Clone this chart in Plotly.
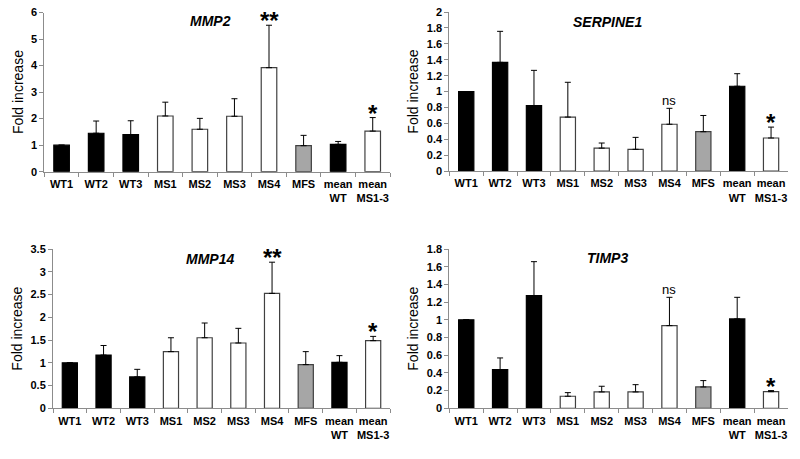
import plotly.graph_objects as go

categories = ["WT1", "WT2", "WT3", "MS1", "MS2", "MS3", "MS4", "MFS", "mean<br>WT", "mean<br>MS1-3"]
bar_colors = ["black", "black", "black", "white", "white", "white", "white", "#a6a6a6", "black", "white"]

mmp2_vals = [1.0, 1.45, 1.40, 2.10, 1.60, 2.09, 3.92, 0.98, 1.03, 1.53]
mmp2_err = [0.0, 0.46, 0.52, 0.52, 0.41, 0.66, 1.60, 0.39, 0.11, 0.51]

serpine1_vals = [1.0, 1.367, 0.825, 0.68, 0.29, 0.275, 0.59, 0.496, 1.067, 0.417]
serpine1_err = [0.0, 0.39, 0.442, 0.437, 0.064, 0.15, 0.20, 0.204, 0.158, 0.137]

mmp14_vals = [1.0, 1.17, 0.69, 1.245, 1.55, 1.435, 2.525, 0.96, 1.01, 1.486]
mmp14_err = [0.0, 0.21, 0.166, 0.305, 0.324, 0.322, 0.685, 0.285, 0.147, 0.094]

timp3_vals = [1.0, 0.437, 1.273, 0.136, 0.185, 0.185, 0.934, 0.241, 1.01, 0.188]
timp3_err = [0.0, 0.132, 0.384, 0.041, 0.064, 0.082, 0.32, 0.072, 0.244, 0.012]

W, H = 800, 459


def fx(px):
    return px / W


def fy(py):
    return 1 - py / H


panels = [
    dict(name="MMP2", vals=mmp2_vals, err=mmp2_err, ymax=6, dtick=1,
         box=(44.3, 390, 12.5, 171.7), title=(210, 21),
         marks={"MS4": "**", "mean<br>MS1-3": "*"}),
    dict(name="SERPINE1", vals=serpine1_vals, err=serpine1_err, ymax=2, dtick=0.2,
         box=(449.3, 788, 12, 171.2), title=(607, 22),
         marks={"MS4": "ns", "mean<br>MS1-3": "*"}),
    dict(name="MMP14", vals=mmp14_vals, err=mmp14_err, ymax=3.5, dtick=0.5,
         box=(53, 390, 249, 408.3), title=(210, 259),
         marks={"MS4": "**", "mean<br>MS1-3": "*"}),
    dict(name="TIMP3", vals=timp3_vals, err=timp3_err, ymax=1.8, dtick=0.2,
         box=(449.3, 788, 249, 408.3), title=(607, 258),
         marks={"MS4": "ns", "mean<br>MS1-3": "*"}),
]

FONT = "Liberation Sans, Arial"
fig = go.Figure()
annotations = []

for i, p in enumerate(panels):
    n = i + 1
    xa = "x" if n == 1 else f"x{n}"
    ya = "y" if n == 1 else f"y{n}"
    x0, x1, y0, y1 = p["box"]
    line_colors = ["black" if c == "black" else "#404040" for c in bar_colors]
    fig.add_trace(go.Bar(
        x=categories, y=p["vals"], xaxis=xa, yaxis=ya,
        marker=dict(color=bar_colors, line=dict(color=line_colors, width=1.2)),
        error_y=dict(type="data", array=p["err"], arrayminus=[0] * len(p["err"]),
                     symmetric=False, color="black", thickness=1, width=3),
        showlegend=False,
    ))
    axkey_x = "xaxis" if n == 1 else f"xaxis{n}"
    axkey_y = "yaxis" if n == 1 else f"yaxis{n}"
    fig.layout[axkey_x] = dict(
        domain=[fx(x0), fx(x1)], anchor=ya, type="category", automargin=False,
        showline=True, linecolor="#8c8c8c", linewidth=1, tickangle=0,
        ticks="outside", tickson="boundaries", ticklen=4, tickcolor="#8c8c8c",
        ticklabelstandoff=2, ticklabeloverflow="allow",
        tickfont=dict(family=FONT, size=11, color="black", weight="bold"),
        showgrid=False, zeroline=False,
    )
    fig.layout[axkey_y] = dict(
        domain=[fy(y1), fy(y0)], anchor=xa, range=[0, p["ymax"]], dtick=p["dtick"],
        automargin=False, ticklabeloverflow="allow",
        showline=True, linecolor="#8c8c8c", linewidth=1,
        ticks="outside", ticklen=4, tickcolor="#8c8c8c",
        tickfont=dict(family=FONT, size=11, color="black", weight="bold"),
        showgrid=False, zeroline=False,
        title=dict(text="Fold increase", standoff=4,
                   font=dict(family=FONT, size=14, color="black")),
    )
    tx, ty = p["title"]
    annotations.append(dict(
        text=f"<b><i>{p['name']}</i></b>", x=fx(tx), y=fy(ty),
        xref="paper", yref="paper", showarrow=False,
        xanchor="center", yanchor="middle",
        font=dict(family=FONT, size=14, color="black"),
    ))
    for cat, txt in p["marks"].items():
        idx = categories.index(cat)
        top = p["vals"][idx] + p["err"][idx]
        if txt == "ns":
            font = dict(family=FONT, size=13, color="black")
            shown = txt
            ys = -2
        else:
            font = dict(family=FONT, size=24, color="black")
            shown = f"<b>{txt}</b>"
            ys = -11
        annotations.append(dict(
            text=shown, x=cat, y=top, xref=xa, yref=ya,
            showarrow=False, xanchor="center", yanchor="bottom", yshift=ys,
            font=font,
        ))

fig.update_layout(
    width=W, height=H,
    margin=dict(l=0, r=0, t=0, b=0, autoexpand=False),
    paper_bgcolor="white", plot_bgcolor="white",
    bargap=0.55,
    annotations=annotations,
    font=dict(family=FONT, color="black"),
)

fig.write_html(
    "out.html",
    config={"displayModeBar": False},
    post_script="document.body.style.margin='0';document.body.style.padding='0';",
)
